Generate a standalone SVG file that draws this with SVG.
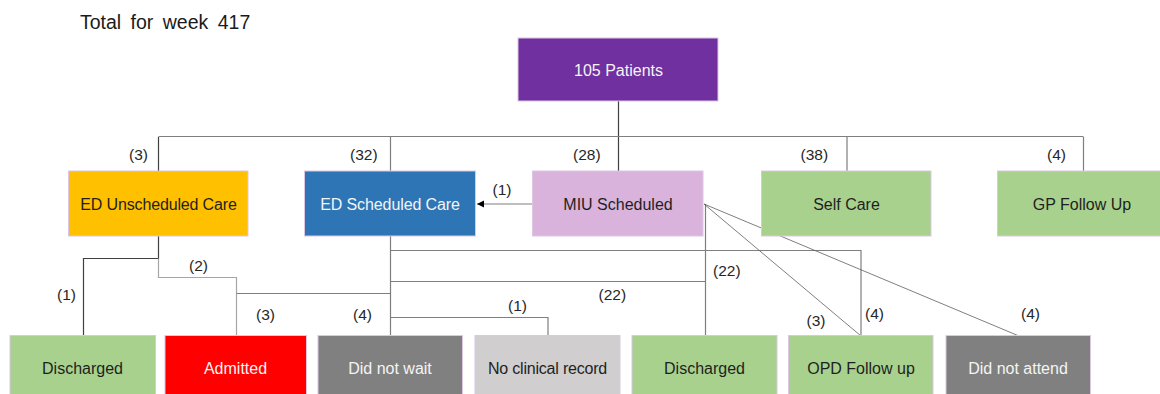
<svg xmlns="http://www.w3.org/2000/svg" width="1160" height="394" viewBox="0 0 1160 394">
<style>
text{font-family:"Liberation Sans",Arial,sans-serif}
.t{font-size:16px;text-anchor:middle;fill:#1f1f1f}
.w{fill:#f4f4f4}
.lb{font-size:15.5px;fill:#262626}
.box{stroke:#dcc6e2;stroke-width:1}
.ln{fill:none;stroke:#7f7f7f;stroke-width:1.2}
.dk{stroke:#404040}
.lt{stroke:#a6a6a6}
.dg{fill:none;stroke:#5e5e5e;stroke-width:0.8}
</style>
<defs>
<marker id="ah" markerWidth="8" markerHeight="8" refX="7" refY="4" orient="auto" markerUnits="userSpaceOnUse">
<path d="M0,0.5 L7,4 L0,7.5 Z" fill="#000"/>
</marker>
</defs>
<rect width="1160" height="394" fill="#fff"/>
<text x="80" y="28.5" font-size="19.5" word-spacing="4" fill="#1a1a1a">Total for week 417</text>

<g id="connectors">
<path class="ln dk" d="M618.5,101 V137 M618.5,137 V171"/>
<path class="ln" d="M158.5,136.5 H1083.5"/>
<path class="ln dk" d="M158.5,137 V171"/>
<path class="ln" d="M390.5,137 V171 M847,137 V171 M1083.5,137 V171"/>
<path class="ln" d="M533,204 H477" marker-end="url(#ah)"/>
<path class="ln dk" d="M158.5,236 V258.5 H83.5 V336"/>
<path class="ln lt" d="M158.5,258.5 V277.5 H236.5 V336"/>
<path class="ln" d="M236.5,293.5 H390.5"/>
<path class="ln" d="M390.5,236 V336"/>
<path class="ln" d="M390.5,250.5 H861 V336"/>
<path class="ln" d="M390.5,281.5 H705.5"/>
<path class="ln" d="M390.5,317.5 H548 V336"/>
<path class="ln" d="M705.5,204 V336"/>
<path class="dg" d="M704,204 L861,336 M704,204 L1019,336"/>
</g>

<g id="labels">
<text class="lb" x="129" y="160">(3)</text>
<text class="lb" x="350" y="160">(32)</text>
<text class="lb" x="573" y="159.5">(28)</text>
<text class="lb" x="800.5" y="159.5">(38)</text>
<text class="lb" x="1047" y="159.5">(4)</text>
<text class="lb" x="492.5" y="194.5">(1)</text>
<text class="lb" x="57" y="300">(1)</text>
<text class="lb" x="189" y="271">(2)</text>
<text class="lb" x="256" y="319.5">(3)</text>
<text class="lb" x="353" y="319.5">(4)</text>
<text class="lb" x="508" y="311">(1)</text>
<text class="lb" x="598.5" y="299.5">(22)</text>
<text class="lb" x="713" y="276">(22)</text>
<text class="lb" x="806.5" y="326">(3)</text>
<text class="lb" x="865" y="319">(4)</text>
<text class="lb" x="1021" y="319">(4)</text>
</g>

<g id="n-root"><rect class="box" x="518" y="38" width="200" height="63" fill="#7030a0"/><text class="t w" x="618.5" y="75.5">105 Patients</text></g>
<g id="n-edu"><rect class="box" x="68.5" y="171" width="179.5" height="65" fill="#ffc000" stroke="#f5dc8c"/><text class="t" x="158.5" y="209.5" letter-spacing="-0.15">ED Unscheduled Care</text></g>
<g id="n-eds"><rect class="box" x="304.5" y="171" width="171" height="65" fill="#2e75b6"/><text class="t w" x="390" y="209.5" letter-spacing="-0.1">ED Scheduled Care</text></g>
<g id="n-miu"><rect class="box" x="532.5" y="171" width="170.5" height="65" fill="#d9b3db"/><text class="t" x="618" y="209.5">MIU Scheduled</text></g>
<g id="n-self"><rect class="box" x="761.5" y="171" width="169.5" height="65" fill="#a9d18e"/><text class="t" x="846.5" y="209.5">Self Care</text></g>
<g id="n-gp"><rect class="box" x="997.5" y="171" width="170" height="65" fill="#a9d18e"/><text class="t" x="1082" y="209.5">GP Follow Up</text></g>

<g id="n-dis1"><rect class="box" x="10" y="335.5" width="145.5" height="64" fill="#a9d18e"/><text class="t" x="82.5" y="374">Discharged</text></g>
<g id="n-adm"><rect class="box" x="165" y="335.5" width="141.5" height="64" fill="#ff0000"/><text class="t w" x="235.5" y="374">Admitted</text></g>
<g id="n-dnw"><rect class="box" x="318" y="335.5" width="144.5" height="64" fill="#808080"/><text class="t w" x="390" y="374">Did not wait</text></g>
<g id="n-ncr"><rect class="box" x="475" y="335.5" width="145" height="64" fill="#d0cece"/><text class="t" x="547.5" y="374" letter-spacing="-0.2">No clinical record</text></g>
<g id="n-dis2"><rect class="box" x="632" y="335.5" width="145" height="64" fill="#a9d18e"/><text class="t" x="704.5" y="374">Discharged</text></g>
<g id="n-opd"><rect class="box" x="788.5" y="335.5" width="144.5" height="64" fill="#a9d18e"/><text class="t" x="861" y="374">OPD Follow up</text></g>
<g id="n-dna"><rect class="box" x="946" y="335.5" width="144.5" height="64" fill="#808080"/><text class="t w" x="1018" y="374">Did not attend</text></g>
</svg>
